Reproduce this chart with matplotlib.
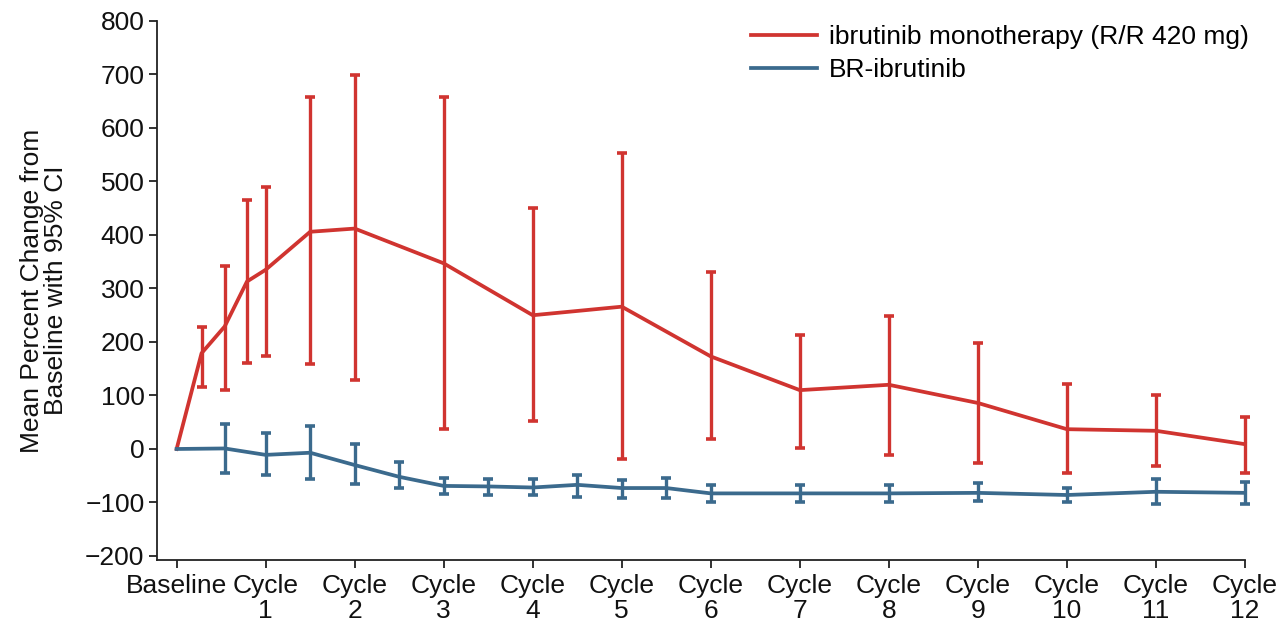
import numpy as np
import matplotlib
matplotlib.use("Agg")
import matplotlib.pyplot as plt

plt.rcParams['font.family'] = ['Liberation Sans', 'DejaVu Sans']

# x positions in cycles (baseline = 0)
mono_x = [0, 0.28, 0.54, 0.79, 1, 1.5, 2, 3, 4, 5, 6, 7, 8, 9, 10, 11, 12]
mono_mean = [0, 179, 229, 313, 335, 406, 412, 347, 250, 266, 173, 110, 120, 86, 37, 34, 9]
mono_lo = [np.nan, 116, 110, 161, 173, 159, 129, 37, 52, -19, 18, 2, -11, -26, -45, -31, -45]
mono_hi = [np.nan, 228, 342, 465, 490, 657, 699, 657, 450, 554, 331, 213, 248, 199, 121, 101, 60]

br_x = [0, 0.54, 1, 1.5, 2, 2.5, 3, 3.5, 4, 4.5, 5, 5.5, 6, 7, 8, 9, 10, 11, 12]
br_mean = [0, 1, -11, -7, -30, -52, -69, -70, -72, -67, -73, -73, -83, -83, -83, -82, -86, -80, -82]
br_lo = [np.nan, -45, -49, -57, -65, -73, -84, -86, -86, -90, -92, -92, -100, -100, -100, -97, -100, -103, -103]
br_hi = [np.nan, 47, 29, 43, 9, -25, -55, -57, -57, -49, -58, -55, -67, -67, -67, -64, -72, -57, -62]

tick_pos = list(range(13))
tick_labels = ["Baseline\n"] + [f"Cycle\n{i}" for i in range(1, 13)]

red = "#d03430"
blue = "#3b6a8d"
fs = 19


def draw_series(ax, x, mean, lo, hi, color, label):
    mean = np.array(mean, dtype=float)
    err = np.array([mean - np.array(lo, dtype=float), np.array(hi, dtype=float) - mean])
    err = np.nan_to_num(err)
    ax.plot(x, mean, color=color, lw=2.7, label=label, zorder=3, clip_on=False)
    # skip the baseline point (no interval)
    eb = ax.errorbar(x[1:], mean[1:], yerr=err[:, 1:], fmt="none", ecolor=color,
                     elinewidth=2.4, capsize=3.8, capthick=2.6, zorder=3)
    for art in eb.lines[1] + eb.lines[2]:
        art.set_clip_on(False)


fig = plt.figure(figsize=(12.84, 6.36), dpi=100)
ax = fig.add_axes([0.1223, 0.1195, 0.8473, 0.8475])

draw_series(ax, mono_x, mono_mean, mono_lo, mono_hi, red, "ibrutinib monotherapy (R/R 420 mg)")
draw_series(ax, br_x, br_mean, br_lo, br_hi, blue, "BR-ibrutinib")

ax.set_xlim(-0.22, 12)
ax.set_ylim(-207.5, 800)
ax.set_yticks(np.arange(-200, 801, 100))
ax.set_yticklabels([f"{v}".replace("-", "\u2212") for v in range(-200, 801, 100)])
ax.set_xticks(tick_pos)
ax.set_xticklabels(tick_labels, linespacing=1.05)

for s in ["top", "right"]:
    ax.spines[s].set_visible(False)
for s in ["left", "bottom"]:
    ax.spines[s].set_linewidth(1.3)
    ax.spines[s].set_color("#222222")
ax.tick_params(axis="both", direction="out", length=6, width=1.3,
               labelsize=fs, color="#222222", labelcolor="#111111")
ax.tick_params(axis="x", pad=4)
ax.tick_params(axis="y", pad=3)

ax.set_ylabel("Mean Percent Change from\nBaseline with 95% CI", fontsize=fs,
              labelpad=12, color="#111111", linespacing=1.05)

leg = ax.legend(loc="upper right", bbox_to_anchor=(1.018, 1.022), frameon=False,
                fontsize=fs, handlelength=2.5, handletextpad=0.45,
                labelspacing=0.35, borderaxespad=0.2)

fig.savefig("out.png", dpi=100)
